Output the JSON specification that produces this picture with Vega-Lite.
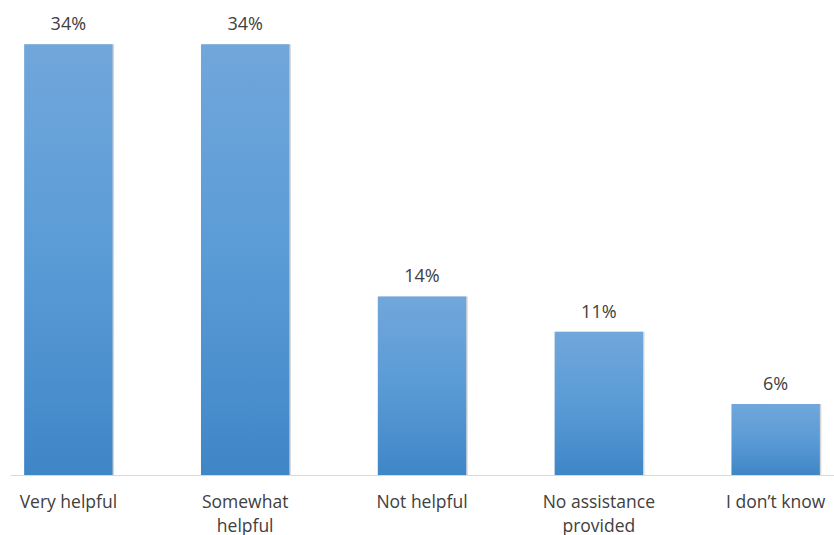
{
  "$schema": "https://vega.github.io/schema/vega-lite/v6.json",
  "width": 824,
  "height": 475,
  "padding": {"left": 10, "top": 0, "right": 0, "bottom": 60},
  "autosize": {"type": "none"},
  "background": "white",
  "config": {"view": {"stroke": null}, "font": "Open Sans"},
  "data": {"values": [
    {"category": "Very helpful", "value": 34, "label": "34%"},
    {"category": "Somewhat helpful", "value": 34, "label": "34%"},
    {"category": "Not helpful", "value": 14.1, "label": "14%"},
    {"category": "No assistance provided", "value": 11.3, "label": "11%"},
    {"category": "I don’t know", "value": 5.6, "label": "6%"}
  ]},
  "encoding": {
    "x": {"field": "category", "type": "nominal", "sort": null,
      "scale": {"paddingInner": 0.5, "paddingOuter": 0.08},
      "axis": {"title": null, "ticks": false, "domainColor": "#d9d9d9", "domainWidth": 1,
        "labelAngle": 0, "labelFontSize": 17.5, "labelColor": "#404040", "labelFont": "Open Sans",
        "labelPadding": 18, "labelLineHeight": 24, "labelLimit": 200,
        "labelExpr": "datum.label == 'Somewhat helpful' ? ['Somewhat','helpful'] : datum.label == 'No assistance provided' ? ['No assistance','provided'] : datum.label"}},
    "y": {"field": "value", "type": "quantitative",
      "scale": {"domain": [0, 37.5], "nice": false, "zero": true},
      "axis": null}
  },
  "layer": [
    {"mark": {"type": "bar", "color": "#b8b8b8", "opacity": 0.6, "xOffset": 1.5, "yOffset": 0}},
    {"mark": {"type": "bar", "color": {"gradient": "linear", "x1": 0, "y1": 0, "x2": 0, "y2": 1,
      "stops": [{"offset": 0, "color": "#71a7db"}, {"offset": 0.5, "color": "#5a9bd6"}, {"offset": 1, "color": "#3f86c7"}]}}},
    {"mark": {"type": "text", "baseline": "bottom", "dy": -10, "fontSize": 18, "color": "#404040", "font": "Open Sans"},
      "encoding": {"text": {"field": "label"}}}
  ]
}
